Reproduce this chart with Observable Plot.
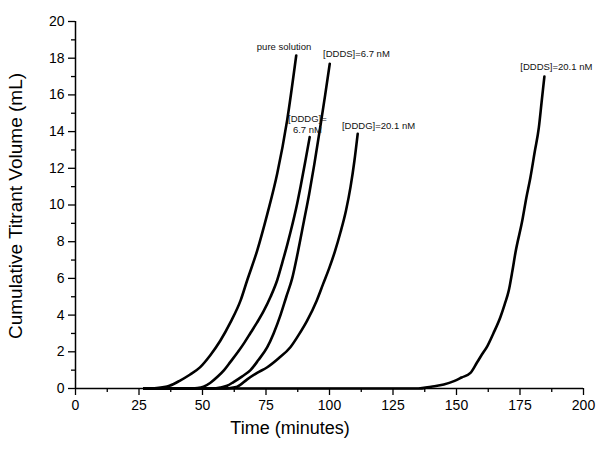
<!DOCTYPE html>
<html>
<head>
<meta charset="utf-8">
<script src="https://cdn.jsdelivr.net/npm/d3@7"></script>
<script src="https://cdn.jsdelivr.net/npm/@observablehq/plot@0.6"></script>
<style>
  html, body { margin: 0; padding: 0; background: #fff; }
  #chart { width: 600px; height: 450px; }
</style>
</head>
<body>
<div id="chart"></div>
<script>
// ---- data (time in minutes, cumulative titrant volume in mL) ----
const pureT = [27, 32, 37, 41, 45, 49, 53, 57, 61, 65, 67.6, 71.5, 75.5, 79.4, 83.3, 86.9];
const pureV = [0, 0.03, 0.15, 0.42, 0.75, 1.15, 1.8, 2.6, 3.6, 4.8, 5.9, 7.5, 9.5, 11.7, 14.6, 18.15];

const dddg67T = [27, 44, 48, 50.4, 53, 56, 58.5, 61, 64, 66.5, 69, 71.5, 74, 76.8, 79.4, 81.5, 83.3, 84.6, 87.3, 88.6, 90.5, 92.2];
const dddg67V = [0, 0, 0.03, 0.1, 0.3, 0.65, 1.0, 1.45, 2.0, 2.5, 3.05, 3.6, 4.2, 5.0, 5.9, 6.9, 7.8, 8.5, 10.1, 11.0, 12.4, 13.7];

const ddds67T = [27, 54, 57, 59.7, 62.2, 65.5, 68.9, 72, 75.5, 78, 80.7, 83, 85.3, 87.5, 89.9, 92, 94, 96.3, 98.3, 100.1];
const ddds67V = [0, 0, 0.05, 0.15, 0.35, 0.65, 1.0, 1.55, 2.25, 3.0, 4.0, 5.0, 6.0, 7.4, 9.1, 10.6, 12.2, 14.2, 16.0, 17.7];

const dddg201T = [27, 58, 61, 63.7, 67.6, 71.5, 75.5, 80, 84.6, 88, 91.2, 95, 97.5, 100, 102.2, 104.3, 106.5, 108.3, 109.8, 111.1];
const dddg201V = [0, 0, 0.03, 0.1, 0.5, 0.85, 1.16, 1.65, 2.25, 2.95, 3.7, 4.8, 5.7, 6.6, 7.5, 8.5, 9.7, 11.0, 12.4, 13.88];

const ddds201T = [27, 135, 140, 145, 149, 152, 155.5, 158, 160, 162.1, 164.5, 167.3, 169, 170.6, 172, 173.2, 175.9, 177.5, 179.1, 180.8, 182.4, 183.5, 184.6];
const ddds201V = [0, 0, 0.1, 0.22, 0.4, 0.6, 0.85, 1.4, 1.85, 2.3, 3.0, 3.9, 4.6, 5.35, 6.4, 7.4, 9.15, 10.4, 11.5, 12.9, 14.2, 15.6, 17.0];

const seriesNames = ["pure solution", "[DDDG]=6.7 nM", "[DDDS]=6.7 nM", "[DDDG]=20.1 nM", "[DDDS]=20.1 nM"];

// annotation labels
const labelText = ["pure solution", "[DDDS]=6.7 nM", "[DDDG]=\n6.7 nM", "[DDDG]=20.1 nM", "[DDDS]=20.1 nM"];
const labelX = [82.1, 110.6, 91.3, 119.3, 189.3];
const labelY = [18.65, 18.24, 14.41, 14.33, 17.56];

// tick values
const xMajor = [0, 25, 50, 75, 100, 125, 150, 175, 200];
const xMinor = [12.5, 37.5, 62.5, 87.5, 112.5, 137.5, 162.5, 187.5];
const yMajor = [0, 2, 4, 6, 8, 10, 12, 14, 16, 18, 20];
const yMinor = [1, 3, 5, 7, 9, 11, 13, 15, 17, 19];

// ---- build table ----
const pairs = [[pureT, pureV], [dddg67T, dddg67V], [ddds67T, ddds67V], [dddg201T, dddg201V], [ddds201T, ddds201V]];
const rows = [];
pairs.forEach(([T, V], i) => T.forEach((t, j) => rows.push({series: seriesNames[i], t, v: V[j]})));
const labels = labelText.map((text, i) => ({text, x: labelX[i], y: labelY[i]}));

const font = "'Liberation Sans', Arial, sans-serif";

const plot = Plot.plot({
  width: 600,
  height: 450,
  marginLeft: 75,
  marginRight: 17,
  marginTop: 21,
  marginBottom: 62,
  style: {fontFamily: font, fontSize: "14px", background: "#fff", color: "#000"},
  x: {domain: [0, 200]},
  y: {domain: [0, 20]},
  marks: [
    Plot.axisX({ticks: xMajor, tickSize: 7, tickPadding: 5, tickFormat: d => String(d), label: null, fontSize: 14, strokeWidth: 1.3}),
    Plot.axisX({ticks: xMinor, tickSize: 4, text: null, label: null, strokeWidth: 1.3}),
    Plot.axisY({ticks: yMajor, tickSize: 7, tickPadding: 4, tickFormat: d => String(d), label: null, fontSize: 14, strokeWidth: 1.3}),
    Plot.axisY({ticks: yMinor, tickSize: 4, text: null, label: null, strokeWidth: 1.3}),
    Plot.ruleY([0], {stroke: "#000", strokeWidth: 1.5}),
    Plot.ruleX([0], {stroke: "#000", strokeWidth: 1.5}),
    Plot.line(rows, {x: "t", y: "v", z: "series", stroke: "#000", strokeWidth: 2.6, curve: "monotone-x"}),
    Plot.text(labels, {x: "x", y: "y", text: "text", textAnchor: "middle", fontSize: 9.5, lineHeight: 1.2, fill: "#111", fontFamily: font})
  ]
});

const svg = d3.select(plot);
svg.append("text")
  .attr("x", 290).attr("y", 434)
  .attr("text-anchor", "middle")
  .attr("font-family", font).attr("font-size", 18).attr("fill", "#000")
  .text("Time (minutes)");
svg.append("text")
  .attr("transform", "translate(22,206) rotate(-90)")
  .attr("text-anchor", "middle")
  .attr("font-family", font).attr("font-size", 19).attr("fill", "#000")
  .text("Cumulative Titrant Volume (mL)");

document.getElementById("chart").appendChild(plot);
</script>
</body>
</html>
